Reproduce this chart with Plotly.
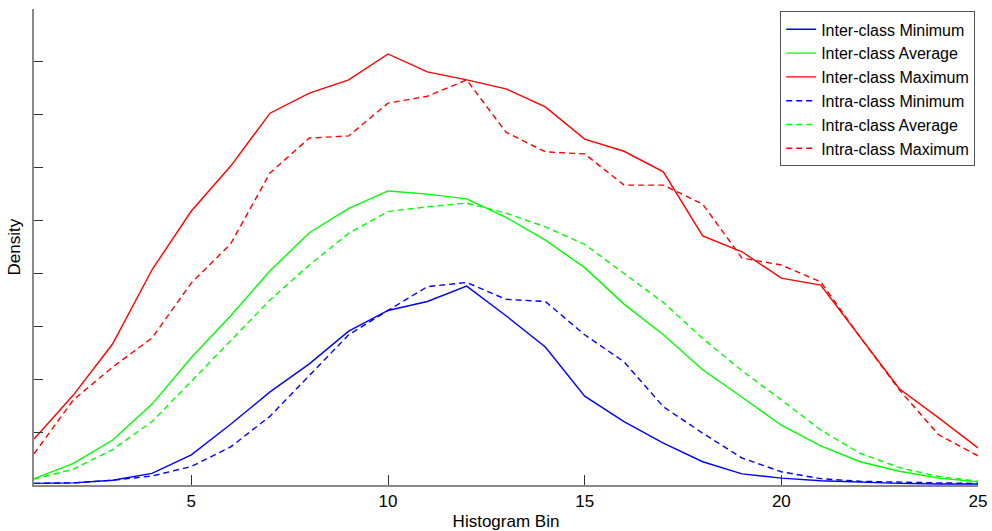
import plotly.graph_objects as go

# Histogram bins on the x axis
bins = list(range(1, 26))

# Density per bin for each statistic
inter_min = [0.03, 0.04, 0.09, 0.22, 0.57, 1.15, 1.76, 2.29, 2.91, 3.30, 3.47, 3.76, 3.20,
             2.61, 1.68, 1.20, 0.79, 0.44, 0.21, 0.13, 0.08, 0.05, 0.03, 0.02, 0.02]
inter_avg = [0.12, 0.41, 0.85, 1.53, 2.41, 3.20, 4.05, 4.77, 5.23, 5.56, 5.50, 5.41, 5.06,
             4.63, 4.11, 3.42, 2.84, 2.18, 1.66, 1.13, 0.74, 0.44, 0.26, 0.13, 0.06]
inter_max = [0.87, 1.70, 2.67, 4.07, 5.18, 6.03, 7.03, 7.41, 7.66, 8.15, 7.81, 7.66, 7.49,
             7.15, 6.54, 6.31, 5.92, 4.71, 4.41, 3.91, 3.78, 2.80, 1.82, 1.27, 0.70]
intra_min = [0.03, 0.04, 0.09, 0.17, 0.35, 0.72, 1.30, 2.06, 2.84, 3.30, 3.75, 3.83, 3.51,
             3.47, 2.84, 2.33, 1.48, 0.98, 0.51, 0.25, 0.12, 0.07, 0.05, 0.04, 0.03]
intra_avg = [0.11, 0.30, 0.67, 1.20, 1.96, 2.74, 3.50, 4.16, 4.76, 5.17, 5.26, 5.33, 5.14,
             4.88, 4.55, 4.00, 3.45, 2.77, 2.16, 1.61, 1.04, 0.60, 0.33, 0.16, 0.07]
intra_max = [0.59, 1.61, 2.23, 2.78, 3.82, 4.56, 5.90, 6.56, 6.60, 7.22, 7.35, 7.66, 6.67,
             6.30, 6.26, 5.67, 5.67, 5.31, 4.29, 4.16, 3.84, 2.80, 1.80, 0.95, 0.55]

x_ticks = [5, 10, 15, 20, 25]
y_ticks = [1, 2, 3, 4, 5, 6, 7, 8]

series = [
    ("Inter-class Minimum", inter_min, "#0000ff", "solid"),
    ("Inter-class Average", inter_avg, "#00ff00", "solid"),
    ("Inter-class Maximum", inter_max, "#ff0000", "solid"),
    ("Intra-class Minimum", intra_min, "#0000ff", "6px,4px"),
    ("Intra-class Average", intra_avg, "#00ff00", "6px,4px"),
    ("Intra-class Maximum", intra_max, "#ff0000", "6px,4px"),
]

FONT = "Liberation Sans, Arial, sans-serif"

fig = go.Figure()
for name, ys, color, dash in series:
    fig.add_trace(go.Scatter(
        x=bins, y=ys, mode="lines", name=name,
        line=dict(color=color, width=1.4, dash=dash),
    ))

fig.update_layout(
    width=992, height=531,
    margin=dict(l=34, r=14, t=9, b=46),
    paper_bgcolor="white", plot_bgcolor="white",
    font=dict(family=FONT, size=17, color="black"),
    showlegend=True,
    legend=dict(
        x=0.997, y=0.995, xanchor="right", yanchor="top",
        bgcolor="white", bordercolor="#555555", borderwidth=1,
        font=dict(family=FONT, size=16, color="black"),
        tracegroupgap=0,
    ),
    # y-axis label, placed just left of the axis line
    annotations=[dict(
        text="Density", textangle=-90,
        xref="paper", yref="paper", x=0, y=0.5,
        xanchor="right", yanchor="middle", xshift=-9,
        showarrow=False, font=dict(family=FONT, size=17, color="black"),
    )],
)

fig.update_xaxes(
    range=[1, 25], tickvals=x_ticks, ticktext=[str(v) for v in x_ticks],
    ticks="inside", ticklen=10, tickcolor="#333333", tickwidth=1,
    ticklabelstandoff=0, automargin=False,
    showline=True, linecolor="#888888", linewidth=1.5,
    showgrid=False, zeroline=False,
    title=dict(text="Histogram Bin", standoff=7, font=dict(size=17)),
    tickfont=dict(size=17),
)
fig.update_yaxes(
    range=[0, 9], tickvals=y_ticks, showticklabels=False,
    ticks="inside", ticklen=9, tickcolor="#333333", tickwidth=1,
    automargin=False,
    showline=True, linecolor="#888888", linewidth=1.5,
    showgrid=False, zeroline=False,
)

fig.write_html("out.html")
